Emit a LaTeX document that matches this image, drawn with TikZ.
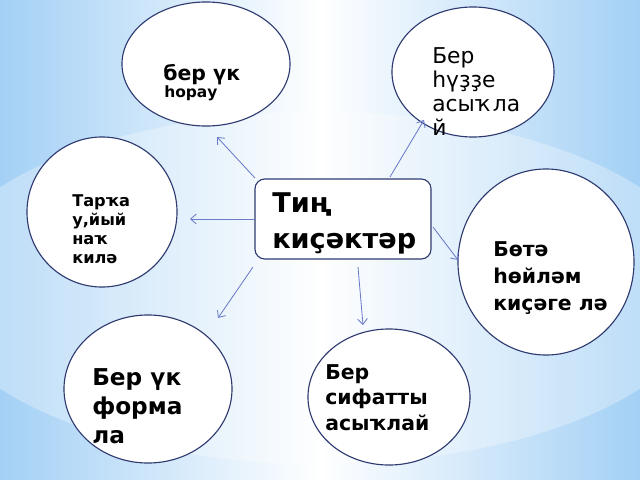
\documentclass[tikz,border=0pt]{standalone}
\usepackage{fontspec}
\setmainfont{DejaVu Sans}
\usetikzlibrary{arrows.meta,shapes.geometric}
\definecolor{bgblue}{HTML}{A3D0F5}
\definecolor{outl}{HTML}{2E3A70}
\definecolor{arrc}{HTML}{6B7BC9}
\tikzset{
  bubble/.style={ellipse, draw=outl, line width=0.8pt, fill=white, inner sep=0pt},
  lbl/.style={anchor=base west, inner sep=0pt, align=left},
  arr/.style={draw=arrc, line width=0.6pt, -{Straight Barb[length=4pt,width=7pt]}},
}
\begin{document}
\begin{tikzpicture}[x=0.025cm,y=-0.025cm]
\useasboundingbox (0,0) rectangle (640,480);
% background
\shade[left color=bgblue, right color=bgblue, middle color=white] (0,0) rectangle (640,480);
\fill[white, opacity=0.3] (320,288) ellipse [x radius=390, y radius=176];
% bubbles
\node[bubble, minimum width=4.2cm, minimum height=3.1cm] (e1) at (206,64) {};
\node[bubble, minimum width=4.05cm, minimum height=3.25cm] (e2) at (473,72) {};
\node[bubble, minimum width=3.75cm, minimum height=3.75cm] (e3) at (102,212) {};
\node[bubble, minimum width=4.4cm, minimum height=4.65cm] (e4) at (546,262) {};
\node[bubble, minimum width=4.2cm, minimum height=3.7cm] (e5) at (148,389) {};
\node[bubble, minimum width=4.05cm, minimum height=3.4cm] (e6) at (389,397) {};
% centre box
\node[draw=outl, line width=0.8pt, fill=white, rounded corners=7pt, minimum width=4.4cm, minimum height=2cm, inner sep=0pt] (c) at (343,219) {};
% texts (anchored at the baseline of the last line)
\node[lbl, font=\bfseries\fontsize{14.5}{17}\selectfont] (t1a) at (163,80) {бер үк};
\node[lbl, font=\bfseries\fontsize{11}{13}\selectfont] (t1b) at (164,97) {һорау};
\node[lbl, font=\fontsize{15.5}{17}\selectfont] (t2) at (432,135) {Бер\\һүҙҙе\\асыҡла\\й};
\node[lbl, font=\bfseries\fontsize{11.5}{13.5}\selectfont] (t3) at (72,263) {Тарҡа\\у,йый\\наҡ\\килә};
\node[lbl, font=\bfseries\fontsize{19.3}{24.9}\selectfont] (tc) at (272,248) {Тиң\\киҫәктәр};
\node[lbl, font=\bfseries\fontsize{14.5}{18.9}\selectfont] (t4) at (493,310) {Бөтә\\һөйләм\\киҫәге лә};
\node[lbl, font=\bfseries\fontsize{16.5}{20.6}\selectfont] (t5) at (92,443) {Бер үк\\форма\\ла};
\node[lbl, font=\bfseries\fontsize{14.5}{17.8}\selectfont] (t6) at (325,430) {Бер\\сифатты\\асыҡлай};
% connector ends
\coordinate (s1) at (255,178); \coordinate (p1) at (217,137);
\coordinate (s2) at (390,177); \coordinate (p2) at (424,120);
\coordinate (s3) at (255,219); \coordinate (p3) at (190,219);
\coordinate (s4) at (433,227); \coordinate (p4) at (458,260);
\coordinate (s5) at (253,267); \coordinate (p5) at (218,318);
\coordinate (s6) at (358,267); \coordinate (p6) at (363,325);
\draw[arr] (s1) -- (p1);
\draw[arr] (s2) -- (p2);
\draw[arr] (s3) -- (p3);
\draw[arr] (s4) -- (p4);
\draw[arr] (s5) -- (p5);
\draw[arr] (s6) -- (p6);
\end{tikzpicture}
\end{document}
